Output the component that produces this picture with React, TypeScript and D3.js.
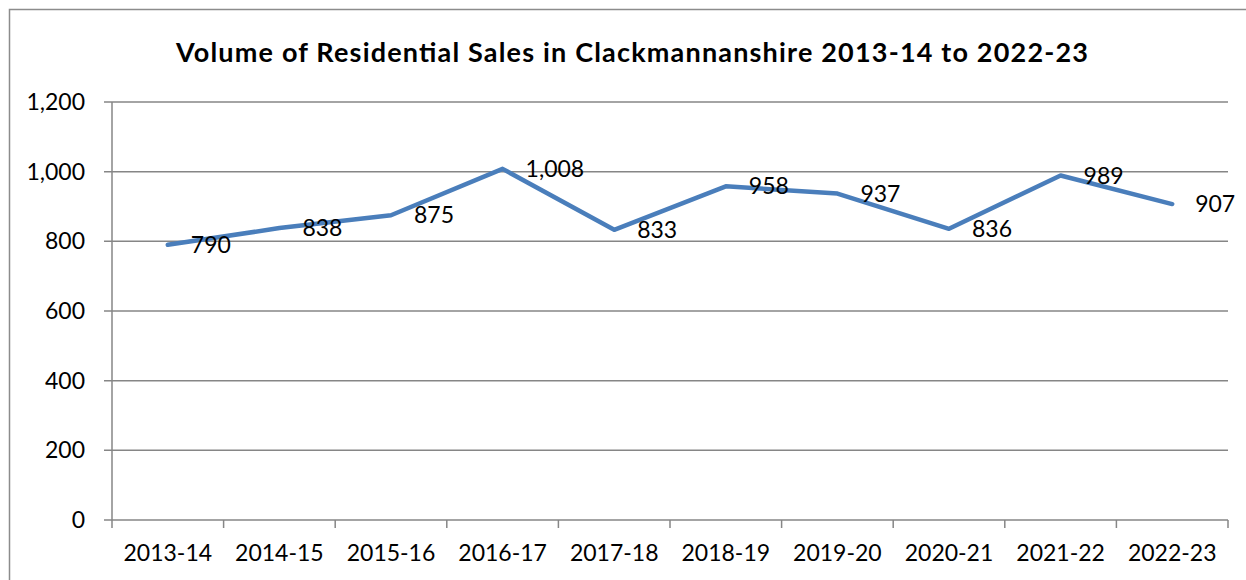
import * as d3 from "d3";
import React from "react";

const years = ["2013-14", "2014-15", "2015-16", "2016-17", "2017-18", "2018-19", "2019-20", "2020-21", "2021-22", "2022-23"];
const sales = [790, 838, 875, 1008, 833, 958, 937, 836, 989, 907];
const yTicks = [0, 200, 400, 600, 800, 1000, 1200];

const W = 1246;
const H = 580;
const margin = { top: 102, right: 18, bottom: 60, left: 112 };
const FONT = "Lato, Carlito, Calibri, sans-serif";

export default function App() {
  const innerW = 1228 - margin.left;
  const innerH = 520 - margin.top;

  const x = d3.scaleBand<string>().domain(years).range([0, innerW]);
  const y = d3.scaleLinear().domain([0, 1200]).range([innerH, 0]);
  const fmt = d3.format(",");

  const line = d3
    .line<number>()
    .x((_, i) => (x(years[i]) ?? 0) + x.bandwidth() / 2)
    .y((d) => y(d));

  const grid = "#868686";

  return (
    <svg width={W} height={H} style={{ position: "absolute", left: 0, top: 0, background: "#fff" }}>
      {/* outer chart border */}
      <path d={`M9.5,${H} V9.5 H${W}`} fill="none" stroke="#8c8c8c" strokeWidth={1.5} />
      <text
        x={632}
        y={62}
        textAnchor="middle"
        fontFamily={FONT}
        fontWeight="bold"
        fontSize={27}
        textLength={912}
        lengthAdjust="spacing"
        fill="#000"
      >
        Volume of Residential Sales in Clackmannanshire 2013-14 to 2022-23
      </text>
      <g transform={`translate(${margin.left},${margin.top})`}>
        {yTicks.map((t) => (
          <g key={t}>
            <line x1={-8} x2={innerW} y1={y(t)} y2={y(t)} stroke={grid} strokeWidth={1.5} />
            <text x={-27} y={y(t)} dy="0.35em" textAnchor="end" fontFamily={FONT} fontSize={23} fill="#000">
              {fmt(t)}
            </text>
          </g>
        ))}
        <line x1={0} x2={0} y1={0} y2={innerH} stroke={grid} strokeWidth={1.5} />
        {[...years.map((c) => x(c) ?? 0), innerW].map((v, i) => (
          <line key={i} x1={v} x2={v} y1={innerH} y2={innerH + 8} stroke={grid} strokeWidth={1.5} />
        ))}
        {years.map((c) => (
          <text key={c} x={(x(c) ?? 0) + x.bandwidth() / 2} y={innerH + 33} dy="0.35em" textAnchor="middle" fontFamily={FONT} fontSize={23} fill="#000">
            {c}
          </text>
        ))}
        <path d={line(sales) ?? ""} fill="none" stroke="#4a7ebb" strokeWidth={4.5} strokeLinejoin="round" strokeLinecap="round" />
        {sales.map((v, i) => (
          <text key={i} x={(x(years[i]) ?? 0) + x.bandwidth() / 2 + 23} y={y(v)} dy="0.35em" fontFamily={FONT} fontSize={23} fill="#000">
            {fmt(v)}
          </text>
        ))}
      </g>
    </svg>
  );
}
